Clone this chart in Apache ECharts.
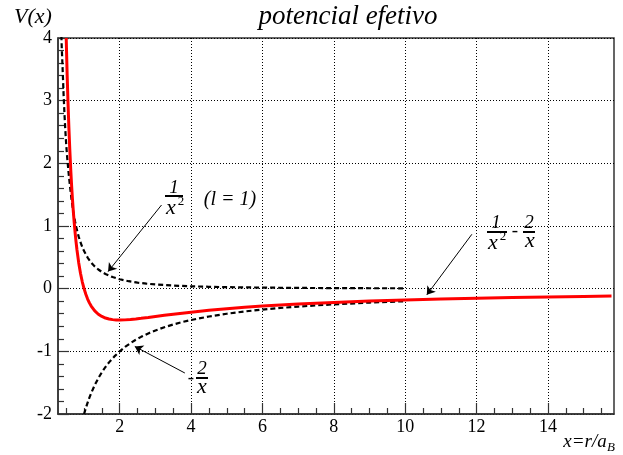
<!DOCTYPE html>
<html>
<head>
<meta charset="utf-8">
<script src="https://cdn.jsdelivr.net/npm/echarts@6/dist/echarts.min.js"></script>
<style>
  html, body { margin: 0; padding: 0; background: #fff; }
  #chart { width: 623px; height: 455px; }
</style>
</head>
<body>
<div id="chart"></div>
<script>
// tick values
var xMajor = [2, 4, 6, 8, 10, 12, 14];
var xMinor = [0.5, 1, 1.5, 2.5, 3, 3.5, 4.5, 5, 5.5, 6.5, 7, 7.5, 8.5, 9, 9.5,
              10.5, 11, 11.5, 12.5, 13, 13.5, 14.5, 15, 15.5];

// curves: [x, V]
var effective = [
  [0.5, 4.0], [0.525, 3.44], [0.55, 2.975], [0.575, 2.57], [0.6, 2.222], [0.625, 1.92],
  [0.65, 1.657], [0.675, 1.43], [0.7, 1.225], [0.725, 1.05], [0.75, 0.889], [0.775, 0.75],
  [0.8, 0.625], [0.85, 0.415], [0.9, 0.247], [0.95, 0.11], [1.0, 0], [1.05, -0.09],
  [1.1, -0.165], [1.15, -0.227], [1.2, -0.278], [1.3, -0.355], [1.4, -0.408], [1.5, -0.444],
  [1.6, -0.469], [1.7, -0.484], [1.8, -0.494], [1.9, -0.499], [2.0, -0.5], [2.15, -0.498],
  [2.3, -0.492], [2.45, -0.483], [2.6, -0.473], [2.8, -0.459], [3, -0.444], [3.25, -0.426],
  [3.5, -0.408], [3.75, -0.391], [4, -0.375], [4.5, -0.346], [5, -0.32], [5.5, -0.298],
  [6, -0.278], [6.5, -0.26], [7, -0.245], [7.5, -0.231], [8, -0.219], [9, -0.198],
  [10, -0.18], [11, -0.165], [12, -0.153], [13, -0.142], [14, -0.133], [15, -0.124],
  [15.78, -0.119]
];
var centrifugal = [
  [0.35, 4.3], [0.375, 3.85], [0.4, 3.5], [0.425, 3.12], [0.45, 2.8], [0.475, 2.53],
  [0.5, 2.3], [0.525, 2.11], [0.55, 1.95], [0.575, 1.8], [0.6, 1.667], [0.65, 1.42],
  [0.7, 1.224], [0.75, 1.067], [0.8, 0.938], [0.85, 0.83], [0.9, 0.741], [0.95, 0.665],
  [1.0, 0.6], [1.1, 0.496], [1.2, 0.417], [1.3, 0.355], [1.4, 0.306], [1.5, 0.267],
  [1.6, 0.234], [1.8, 0.185], [2.0, 0.15], [2.25, 0.119], [2.5, 0.096], [2.75, 0.079],
  [3, 0.067], [3.5, 0.049], [4, 0.038], [4.5, 0.03], [5, 0.024], [6, 0.017], [7, 0.012],
  [8, 0.009], [9, 0.007], [10, 0.006]
];
var coulomb = [
  [1.0, -2], [1.05, -1.905], [1.1, -1.818], [1.15, -1.739], [1.2, -1.667], [1.3, -1.538],
  [1.4, -1.429], [1.5, -1.333], [1.6, -1.25], [1.7, -1.176], [1.85, -1.081], [2, -1],
  [2.15, -0.93], [2.3, -0.87], [2.45, -0.816], [2.6, -0.769], [2.8, -0.714], [3, -0.667],
  [3.25, -0.615], [3.5, -0.571], [3.75, -0.533], [4, -0.5], [4.5, -0.444], [5, -0.4],
  [5.5, -0.364], [6, -0.333], [6.5, -0.308], [7, -0.286], [7.5, -0.267], [8, -0.25],
  [9, -0.222], [10, -0.2]
];

// annotation arrows, start -> tip, in data units
var arrows = [
  [[3.171, 1.335], [1.673, 0.272]],
  [[11.867, 0.868], [10.605, -0.099]],
  [[3.825, -1.346], [2.422, -0.922]]
];

var serif = 'Liberation Serif';
var frameColor = '#333';

function txt(s, x, y, size, italic) {
  return {
    type: 'text', z: 100,
    style: {
      text: s, x: x, y: y, textAlign: 'center', textVerticalAlign: 'middle',
      font: (italic === false ? '' : 'italic ') + size + 'px "' + serif + '"', fill: '#000'
    }
  };
}
function bar(x1, x2, y) {
  return { type: 'line', z: 100, shape: { x1: x1, y1: y, x2: x2, y2: y },
           style: { stroke: '#000', lineWidth: 2 } };
}

var myChart = echarts.init(document.getElementById('chart'));

var tickLabel = { fontFamily: serif, fontSize: 18, color: '#000' };

var option = {
  animation: false,
  backgroundColor: '#fff',
  textStyle: { fontFamily: serif, fontSize: 18, color: '#000' },
  grid: {
    left: 58, right: 9, top: 38, bottom: 41,
    show: true, borderColor: frameColor, borderWidth: 1.5
  },
  xAxis: [
    {
      type: 'value', min: 0.27, max: 15.85, splitNumber: 8, minInterval: 2, maxInterval: 2,
      axisLine: { show: true, onZero: false, lineStyle: { color: frameColor, width: 1.5 } },
      axisTick: { show: true, inside: true, length: 11, customValues: xMajor,
                  lineStyle: { color: frameColor, width: 1.2 } },
      axisLabel: Object.assign({ customValues: xMajor, margin: 4 }, tickLabel),
      splitLine: { show: true, lineStyle: { type: [1, 2], color: '#000', width: 1 } }
    },
    {
      type: 'value', min: 0.27, max: 15.85, position: 'bottom', offset: 0,
      axisLine: { show: false, onZero: false },
      axisTick: { show: true, inside: true, length: 6, customValues: xMinor,
                  lineStyle: { color: frameColor, width: 1.2 } },
      axisLabel: { show: false },
      splitLine: { show: false }
    }
  ],
  yAxis: {
    type: 'value', min: -2, max: 4, interval: 1,
    axisLine: { show: true, onZero: false, lineStyle: { color: frameColor, width: 1.5 } },
    axisTick: { show: true, inside: true, length: 11, lineStyle: { color: frameColor, width: 1.2 } },
    minorTick: { show: true, splitNumber: 5, length: 6, lineStyle: { color: frameColor, width: 1.2 } },
    axisLabel: Object.assign({ margin: 6 }, tickLabel),
    splitLine: { show: true, lineStyle: { type: [1, 2], color: '#000', width: 1 } }
  },
  series: [
    {
      type: 'line', data: centrifugal, showSymbol: false,
      lineStyle: { color: '#000', width: 2.2, type: [5, 3] }, z: 3
    },
    {
      type: 'line', data: coulomb, showSymbol: false,
      lineStyle: { color: '#000', width: 2.2, type: [5, 3] }, z: 3
    },
    {
      type: 'line', data: effective, showSymbol: false,
      lineStyle: { color: '#ff0000', width: 3 }, z: 4,
      markLine: {
        silent: true, symbol: ['none', 'arrow'], symbolSize: 8,
        label: { show: false },
        lineStyle: { color: '#000', width: 1, type: 'solid' },
        data: arrows.map(function (a) { return [{ coord: a[0] }, { coord: a[1] }]; })
      }
    }
  ],
  graphic: [
    txt('potencial efetivo', 348, 17, 27),
    txt('V(x)', 33, 17, 22),
    txt('x=r/a', 585, 442, 19),
    txt('B', 611, 448, 13),
    // 1/x^2 (l = 1)
    txt('1', 174, 188, 19),
    bar(165, 183, 196),
    txt('x', 171, 208, 22),
    txt('2', 181, 202, 13, false),
    txt('(l = 1)', 230, 200, 20),
    // 1/x^2 - 2/x
    txt('1', 496, 223, 19),
    bar(487, 507, 232),
    txt('x', 493, 243, 22),
    txt('2', 503, 237, 13, false),
    txt('-', 515, 231, 19, false),
    txt('2', 529, 223, 19),
    bar(523, 535, 232),
    txt('x', 530, 241, 22),
    // -2/x
    txt('-', 191, 378, 19, false),
    txt('2', 202, 369, 19),
    bar(196, 208, 378),
    txt('x', 202, 387, 22)
  ]
};

myChart.setOption(option);
</script>
</body>
</html>
